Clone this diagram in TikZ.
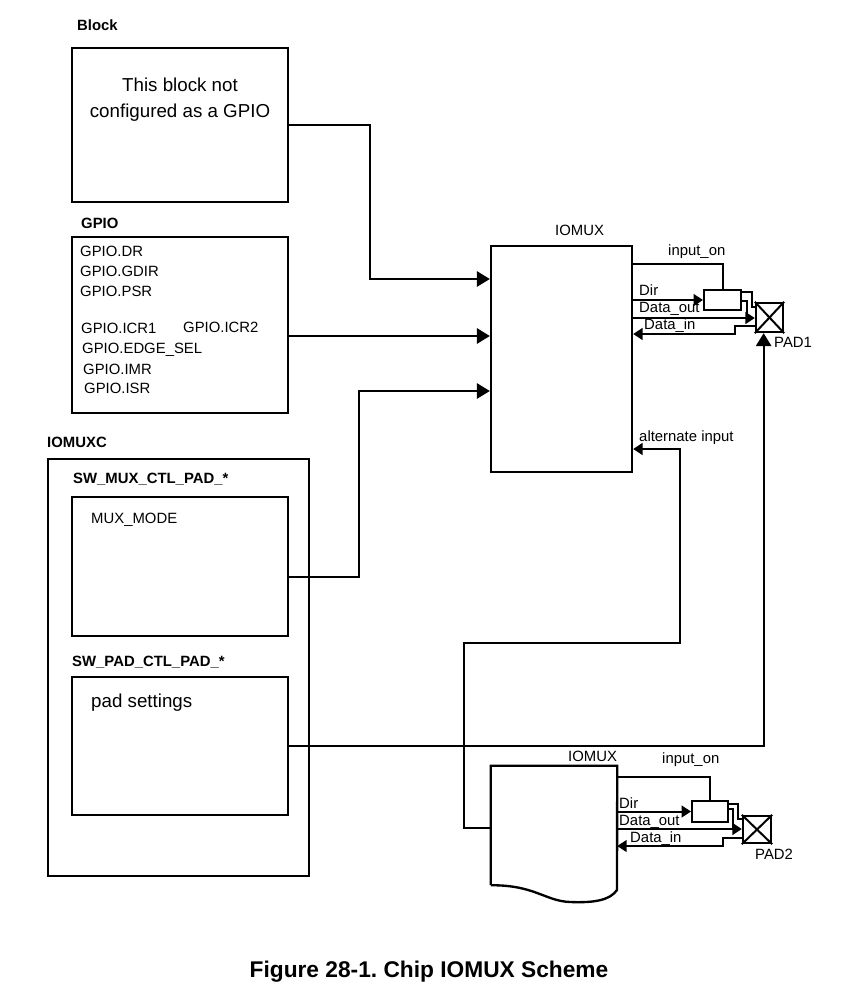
\documentclass[tikz,border=0pt]{standalone}
\usepackage{fontspec}
\setmainfont{Liberation Sans}
\usetikzlibrary{positioning,arrows.meta,fit}

\tikzset{
  box/.style={draw,line width=2pt,inner sep=0pt},
  buf/.style={draw,line width=1.7pt,inner sep=0pt},
  wire/.style={line width=1.7pt},
  sarr/.style={-{Triangle[length=8pt,width=10pt]}},
  tag/.style={anchor=base west,inner sep=0pt,font=\fontsize{12.7}{15}\selectfont},
  head/.style={anchor=base west,inner sep=0pt,font=\bfseries\fontsize{12.7}{15}\selectfont},
  big/.style={anchor=base west,inner sep=0pt,font=\fontsize{16}{20}\selectfont},
}

\begin{document}
\begin{tikzpicture}[x=0.03cm,y=-0.03cm,>={Triangle[length=11pt,width=13pt]}]
  \useasboundingbox (0,0) rectangle (845,995);

  % left column
  \node[box,fit={(72,48) (288,202)}] (blk) {};
  \node[head] (blkname) at (77,30) {Block};
  \node[big,anchor=base] (note1) at (180,91) {This block not};
  \node[big,anchor=base] (note2) at (180,117) {configured as a GPIO};

  \node[box,fit={(72,237) (288,413)}] (gpio) {};
  \node[head] (gpioname) at (81,228) {GPIO};
  \node[tag] (dr) at (80,256) {GPIO.DR};
  \node[tag] (gdir) at (80,276) {GPIO.GDIR};
  \node[tag] (psr) at (80,296) {GPIO.PSR};
  \node[tag] (icra) at (81,333) {GPIO.ICR1};
  \node[tag] (icrb) at (183,332) {GPIO.ICR2};
  \node[tag] (edge) at (82,353) {GPIO.EDGE\_SEL};
  \node[tag] (imr) at (83,374) {GPIO.IMR};
  \node[tag] (isr) at (84,393) {GPIO.ISR};

  \node[box,fit={(48,459) (309,876)}] (iomuxc) {};
  \node[head] (iomuxcname) at (47,447) {IOMUXC};
  \node[head] (muxctlname) at (73,483) {SW\_MUX\_CTL\_PAD\_*};
  \node[box,fit={(72,497) (288,636)}] (muxctl) {};
  \node[tag] (muxmode) at (91,523) {MUX\_MODE};
  \node[head] (padctlname) at (72,666) {SW\_PAD\_CTL\_PAD\_*};
  \node[box,fit={(72,677) (288,815)}] (padctl) {};
  \node[big] (padset) at (91,707) {pad settings};

  % IOMUX with PAD1
  \node[box,fit={(491,246) (632,472)}] (mux1) {};
  \node[tag] (mux1name) at (555,235) {IOMUX};
  \node[buf,fit={(704,290) (741,310)}] (buf1) {};
  \node[box,fit={(756,303) (783,332)}] (pad1) {};
  \draw[line width=1.7pt] (pad1.north west) -- (pad1.south east)
    (pad1.north east) -- (pad1.south west);
  \node[tag] (pad1name) at (774,347) {PAD1};
  \node[tag] (on1) at (668,255) {input\_on};
  \node[tag] (dir1) at (639,295) {Dir};
  \node[tag] (out1) at (639,312) {Data\_out};
  \node[tag] (in1) at (644,329) {Data\_in};
  \node[tag] (alt) at (639,441) {alternate input};

  % IOMUX with PAD2
  \node[fit={(491,766) (617,885)},inner sep=0pt] (mux2) {};
  \draw[line width=2pt] (mux2.south west) -- (mux2.north west) -- (mux2.north east)
    -- (617,890) .. controls (610,900) and (595,903) .. (570,902)
    .. controls (545,901) and (535,885) .. (mux2.south west);
  \node[tag] (mux2name) at (568,761) {IOMUX};
  \node[buf,fit={(692,801) (728,822)}] (buf2) {};
  \node[box,fit={(743,816) (771,843)}] (pad2) {};
  \draw[line width=1.7pt] (pad2.north west) -- (pad2.south east)
    (pad2.north east) -- (pad2.south west);
  \node[tag] (pad2name) at (755,859) {PAD2};
  \node[tag] (on2) at (662,763) {input\_on};
  \node[tag] (dir2) at (619,808) {Dir};
  \node[tag] (out2) at (619,825) {Data\_out};
  \node[tag] (in2) at (630,842) {Data\_in};

  % connections into IOMUX
  \draw[wire,->] (blk.east) -- (370,125) |- (mux1.west |- 0,279);
  \draw[wire,->] (gpio.east |- 0,336) -- (mux1.west |- 0,336);
  \draw[wire,->] (muxctl.east |- 0,577) -- (359,577) |- (mux1.west |- 0,391);
  \draw[wire,->] (padctl.east) -| ([xshift=-5pt]pad1.south);
  \draw[wire,sarr] (mux2.west |- 0,828) -- (464,828) |- (680,643) |- (mux1.east |- 0,449);

  % pad 1 signals
  \draw[wire] (mux1.east |- 0,264) -| (buf1.north);
  \draw[wire,sarr] (mux1.east |- buf1.west) -- (buf1.west);
  \draw[wire,sarr] (mux1.east |- 0,318) -- (pad1.west |- 0,318);
  \draw[wire,sarr] (pad1.west |- 0,326) -- (735,326) -- (735,334) -- (mux1.east |- 0,334);
  \draw[wire] (buf1.east |- 0,292) -| (752,307) -- (pad1.west |- 0,307);
  \draw[wire] (buf1.east |- 0,301) -| (747,318);

  % pad 2 signals
  \draw[wire] (mux2.east |- 0,777) -| (buf2.north);
  \draw[wire,sarr] (mux2.east |- buf2.west) -- (buf2.west);
  \draw[wire,sarr] (mux2.east |- 0,829) -- (pad2.west |- 0,829);
  \draw[wire,sarr] (pad2.west |- 0,838) -- (723,838) -- (723,846) -- (mux2.east |- 0,846);
  \draw[wire] (buf2.east |- 0,804) -| (738,819) -- (pad2.west |- 0,819);
  \draw[wire] (buf2.east |- 0,809) -| (733,829);

  \node[anchor=base,inner sep=0pt,font=\bfseries\fontsize{19.4}{23}\selectfont] (caption)
    at (429,977) {Figure 28-1.\ Chip IOMUX Scheme};
\end{tikzpicture}
\end{document}
